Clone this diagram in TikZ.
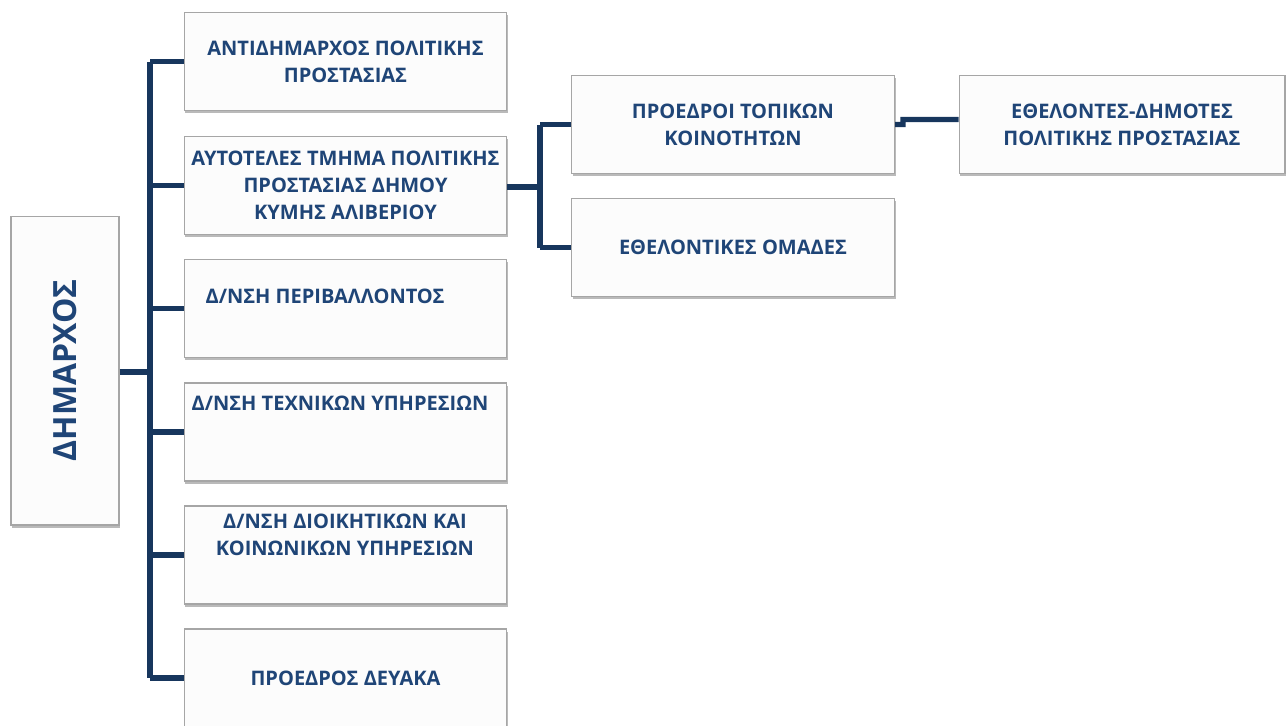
\documentclass[tikz,border=0pt]{standalone}
\usepackage{fontspec}
\setmainfont{Open Sans}
\usepackage{xcolor}
\usetikzlibrary{shadows}

\definecolor{navy}{HTML}{17365D}
\definecolor{ink}{HTML}{1F4577}
\definecolor{rim}{HTML}{A6A6A6}
\definecolor{paper}{HTML}{FCFCFC}

\begin{document}
\begin{tikzpicture}[
            x = 0.02cm, y = -0.02cm,
            unit/.style = {draw=rim, fill=paper, line width=0.6pt,
                          drop shadow={shadow xshift=0.8pt, shadow yshift=-1.6pt,
                                       opacity=0.45, fill=black!60},
                          minimum width=6.46cm, minimum height=1.96cm,
                          inner sep=0pt, align=center, text=ink,
                          font=\fontsize{11.4}{15.3}\selectfont\bfseries},
            words/.style = {align=center, text=ink, inner sep=0pt,
                          font=\fontsize{11.4}{15.3}\selectfont\bfseries},
            link/.style = {draw=navy, line width=2.9pt}
        ]
            \useasboundingbox (0,0) rectangle (1286,725);

            \node (mayor) at (65,370.5) [unit, minimum width=2.16cm, minimum height=6.18cm] {};
            \node[words, rotate=90, font=\fontsize{18.2}{20}\selectfont\bfseries] (mayortxt) at (mayor) {ΔΗΜΑΡΧΟΣ};

            \node (deputy) at (345.5,61.5) [unit] {ΑΝΤΙΔΗΜΑΡΧΟΣ ΠΟΛΙΤΙΚΗΣ\\ΠΡΟΣΤΑΣΙΑΣ};
            \node (civil) at (345.5,185.5) [unit] {ΑΥΤΟΤΕΛΕΣ ΤΜΗΜΑ ΠΟΛΙΤΙΚΗΣ\\ΠΡΟΣΤΑΣΙΑΣ ΔΗΜΟΥ\\ΚΥΜΗΣ ΑΛΙΒΕΡΙΟΥ};
            \node (envir) at (345.5,308.5) [unit] {};
            \node (tech) at (345.5,432) [unit] {};
            \node (admin) at (345.5,555) [unit] {};
            \node (water) at (345.5,678) [unit] {ΠΡΟΕΔΡΟΣ ΔΕΥΑΚΑ};

            \node[words] (envirtxt) at (325,296) {Δ/ΝΣΗ ΠΕΡΙΒΑΛΛΟΝΤΟΣ};
            \node[words] (techtxt) at (340,403) {Δ/ΝΣΗ ΤΕΧΝΙΚΩΝ ΥΠΗΡΕΣΙΩΝ};
            \node[words] (admintxt) at (345,534.5) {Δ/ΝΣΗ ΔΙΟΙΚΗΤΙΚΩΝ ΚΑΙ\\ΚΟΙΝΩΝΙΚΩΝ ΥΠΗΡΕΣΙΩΝ};

            \node (heads) at (733,124.5) [unit] {ΠΡΟΕΔΡΟΙ ΤΟΠΙΚΩΝ\\ΚΟΙΝΟΤΗΤΩΝ};
            \node (teams) at (733,247.5) [unit] {ΕΘΕΛΟΝΤΙΚΕΣ ΟΜΑΔΕΣ};
            \node (citizens) at (1122,124.5) [unit, minimum width=6.52cm] {ΕΘΕΛΟΝΤΕΣ-ΔΗΜΟΤΕΣ\\ΠΟΛΙΤΙΚΗΣ ΠΡΟΣΤΑΣΙΑΣ};

            \coordinate (trunk) at (150,372);
            \coordinate (branch) at (540,187);

            % mayor tree
            \draw[link] (mayor.east |- trunk) -- (trunk);
            \draw[link] (trunk |- deputy) -- (trunk |- water);
            \foreach \n in {deputy, civil, envir, tech, admin, water}
                \draw[link] (trunk |- \n.west) -- (\n.west);

            % civil protection branch
            \draw[link] (civil.east |- branch) -- (branch);
            \draw[link] (branch |- heads) -- (branch |- teams);
            \draw[link] (branch |- heads) -- (heads.west);
            \draw[link] (branch |- teams) -- (teams.west);
            \draw[link] (heads.east) -- ++(8,0) -- ++(0,-5) -- ([yshift=0.1cm]citizens.west);
        \end{tikzpicture}
\end{document}
